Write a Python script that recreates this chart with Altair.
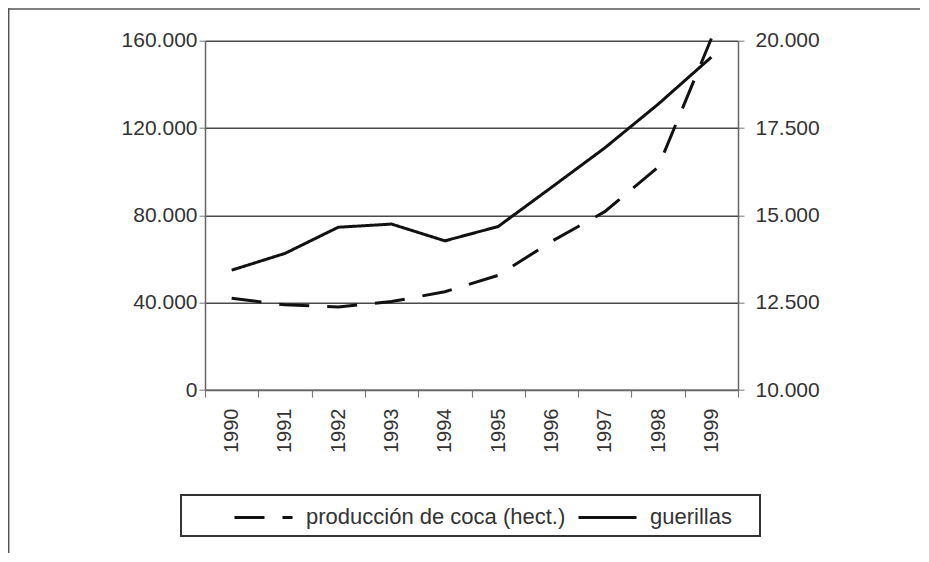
import altair as alt
import pandas as pd

years = ["1990", "1991", "1992", "1993", "1994", "1995", "1996", "1997", "1998", "1999"]
coca = [42000, 39000, 38000, 40500, 45000, 52500, 68000, 81700, 102000, 161000]
guerrillas = [13430, 13910, 14660, 14750, 14270, 14680, 15800, 16930, 18180, 19530]
series_names = ["producción de coca (hect.)", "guerillas"]
left_ticks = [0, 40000, 80000, 120000, 160000]
right_ticks = [10000, 12500, 15000, 17500, 20000]

df = pd.DataFrame({
    "year": years * 2,
    "value": coca + guerrillas,
    "series": [series_names[0]] * len(years) + [series_names[1]] * len(years),
})
one = pd.DataFrame({"k": [0]})

FONT = "Liberation Sans"
TXT = "#333333"
fmt = "replace(format(datum.value, ','), ',', '.')"

x_enc = alt.X(
    "year:O",
    sort=years,
    scale=alt.Scale(type="band", paddingInner=0, paddingOuter=0),
    axis=alt.Axis(
        title=None, labelAngle=-90, tickBand="extent", tickSize=7, labelPadding=11,
        labelFontSize=20, labelFont=FONT, labelColor=TXT, domainColor="#666",
        domainWidth=1.5, tickColor="#777", tickWidth=1.2, grid=False,
    ),
)

dash = alt.StrokeDash(
    "series:N",
    scale=alt.Scale(domain=series_names, range=[[30, 18], [1, 0]]),
    legend=alt.Legend(
        orient="none", legendX=28, legendY=446, direction="horizontal", title=None,
        symbolType="stroke", symbolSize=3364, symbolStrokeWidth=3,
        symbolStrokeColor="#111", labelFontSize=22, labelFont=FONT, labelColor=TXT,
        labelOffset=12, columnPadding=6, padding=0, labelLimit=500,
    ),
)

coca_line = alt.Chart(df).transform_filter(
    alt.datum.series == series_names[0]
).mark_line(color="#111", strokeWidth=3).encode(
    x=x_enc,
    y=alt.Y(
        "value:Q",
        scale=alt.Scale(domain=[0, 160000], nice=False, zero=True),
        axis=alt.Axis(
            orient="left", values=left_ticks, grid=True, gridColor="#4a4a4a",
            gridWidth=1.6, labelExpr=fmt, title=None, tickSize=6, labelPadding=2,
            labelFontSize=21, labelFont=FONT, labelColor=TXT, domainColor="#666",
            domainWidth=1.5, tickColor="#777",
        ),
    ),
    strokeDash=dash,
)

guer_line = alt.Chart(df).transform_filter(
    alt.datum.series == series_names[1]
).mark_line(color="#111", strokeWidth=3).encode(
    x=x_enc,
    y=alt.Y(
        "value:Q",
        scale=alt.Scale(domain=[10000, 20000], nice=False, zero=False),
        axis=alt.Axis(
            orient="right", values=right_ticks, grid=False, labelExpr=fmt, title=None,
            tickSize=6, labelPadding=11, labelFontSize=21, labelFont=FONT,
            labelColor=TXT, domainColor="#666", domainWidth=1.5, tickColor="#777",
        ),
    ),
    strokeDash=dash,
)

legend_box = alt.Chart(one).mark_rect(
    fillOpacity=0, stroke="#333", strokeWidth=2
).encode(
    x=alt.value(-24), x2=alt.value(555), y=alt.value(454.3), y2=alt.value(495.3)
)

frame_top = alt.Chart(one).mark_rule(color="#555", strokeWidth=1.5).encode(
    x=alt.value(-197), x2=alt.value(740), y=alt.value(-31.7)
)
frame_left = alt.Chart(one).mark_rule(color="#555", strokeWidth=1.5).encode(
    x=alt.value(-196.3), y=alt.value(-32.5), y2=alt.value(540)
)

chart = alt.layer(coca_line, guer_line, legend_box, frame_top, frame_left).resolve_scale(
    y="independent"
).properties(
    width=533,
    height=349.3,
    autosize=alt.AutoSizeParams(type="none"),
    padding={"left": 197, "top": 32.7, "right": 182, "bottom": 163},
    background="white",
).configure_view(stroke="transparent")

chart.save("out.html", embed_options={"renderer": "svg", "actions": False})
